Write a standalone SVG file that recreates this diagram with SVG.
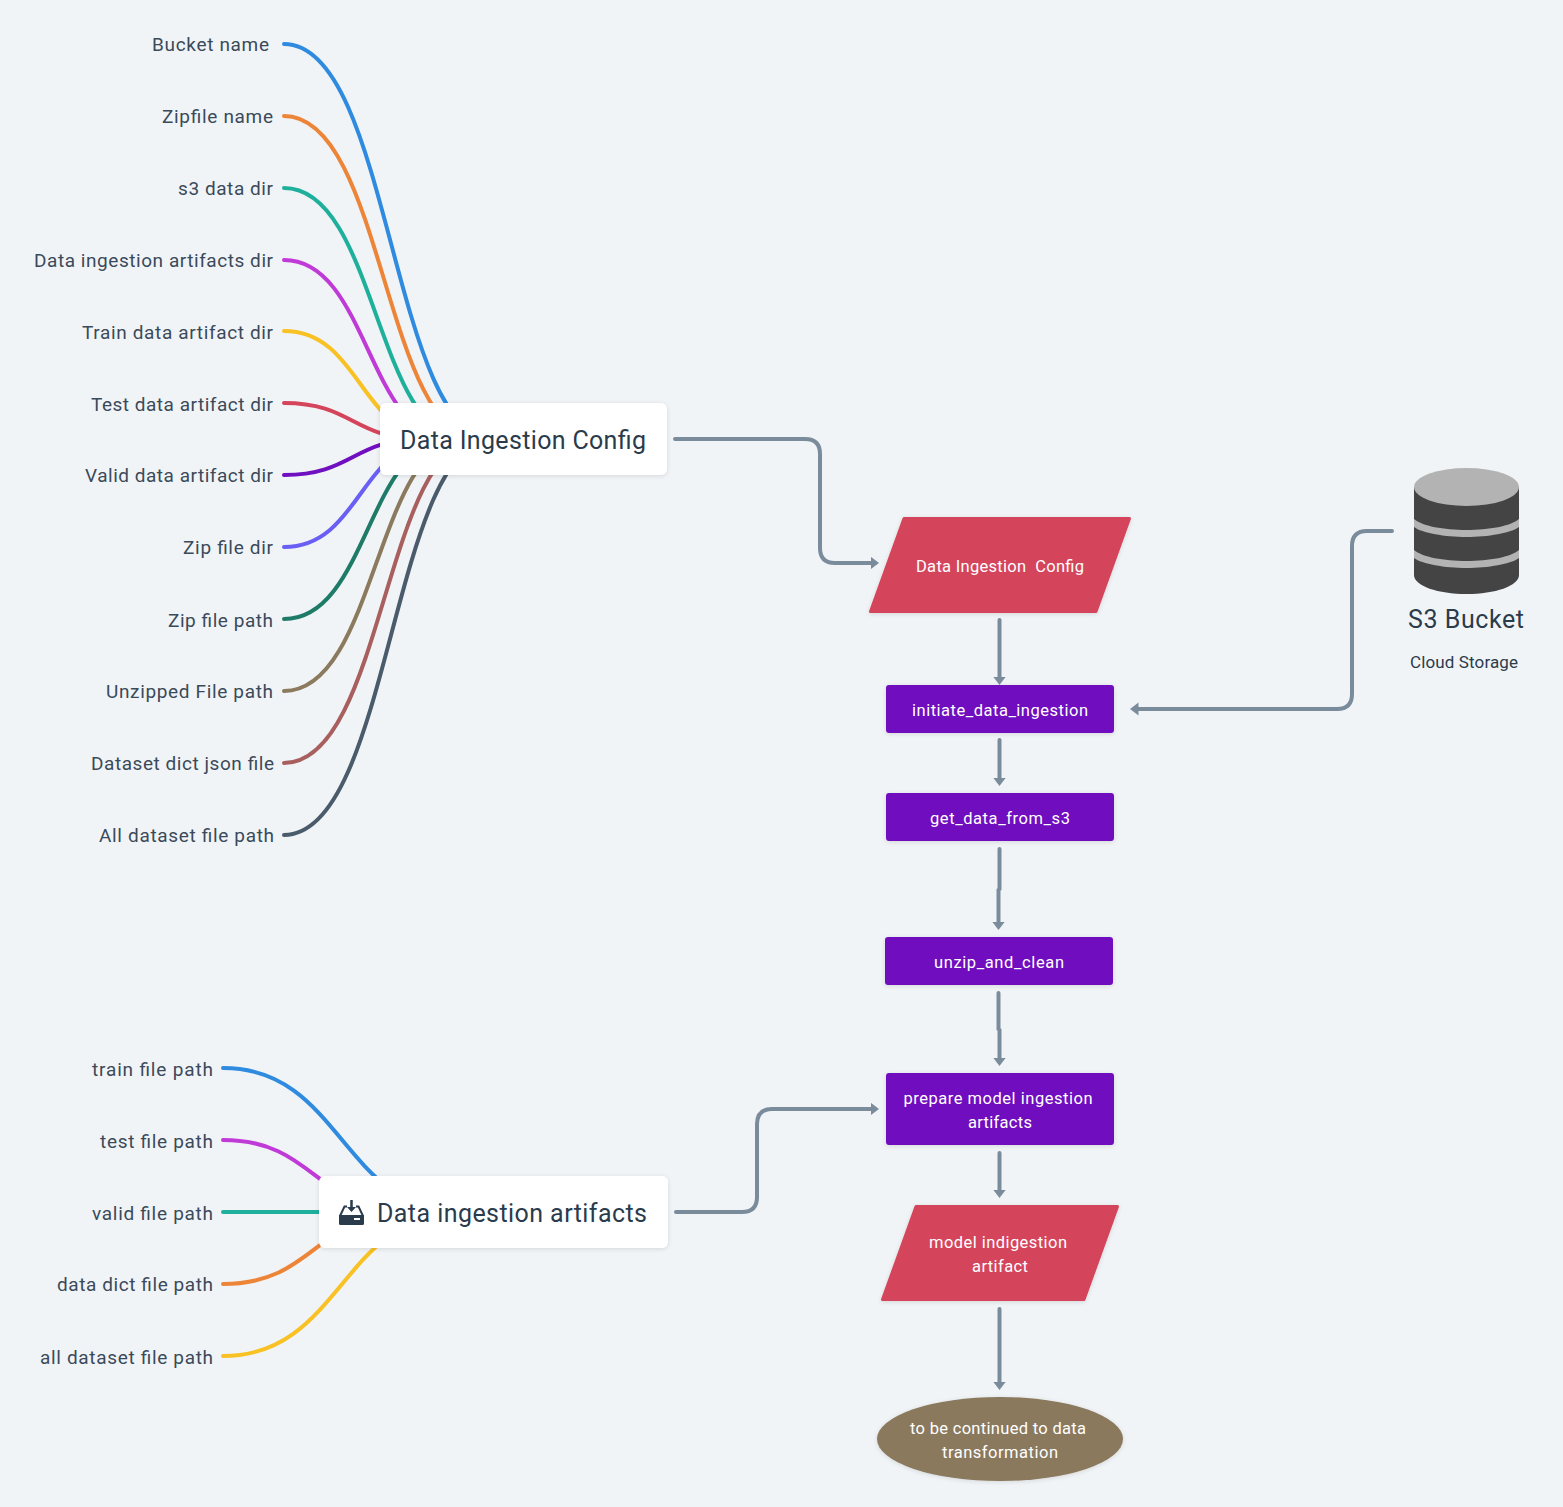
<svg xmlns="http://www.w3.org/2000/svg" width="1563" height="1507" viewBox="0 0 1563 1507">
<style>
text{font-family:"Roboto","Liberation Sans",sans-serif}
.leaf{font-size:19px;fill:#3a4a5a}
.big{font-size:25px;fill:#2a3b4c}
.w{font-size:16.5px;fill:#fff}
.c{fill:none;stroke-width:4;stroke-linecap:round}
.k{fill:none;stroke:#7a8b9c;stroke-width:4;stroke-linecap:round;marker-end:url(#a)}
.p{fill:#6f0fbf;filter:url(#s)}
.r{fill:#d4455b;stroke:#d4455b;stroke-width:3;stroke-linejoin:round;filter:url(#s)}
</style>
<defs>
<marker id="a" markerUnits="userSpaceOnUse" markerWidth="14" markerHeight="14" refX="2.500" refY="6.500" orient="auto"><path d="M0 0L8.500 6.500L0 13Z" fill="#7a8b9c"/></marker>
<filter id="s" x="-10%" y="-20%" width="120%" height="140%"><feDropShadow dx="0" dy="1" stdDeviation="2" flood-color="#000" flood-opacity=".12"/></filter>
</defs>
<rect width="1563" height="1507" fill="#f1f4f7"/>
<g id="connectors">
<path class="c" stroke="#2e8bdf" d="M284 44C391 44 391 439 494 439"/>
<path class="c" stroke="#ed8539" d="M284 116C384 116 384 439 480 439"/>
<path class="c" stroke="#1fb09c" d="M284 188C376 188 376 439 465 439"/>
<path class="c" stroke="#c03ad8" d="M284 260C368 260 368 439 451 439"/>
<path class="c" stroke="#f8c124" d="M284 331C361 331 361 439 439 439"/>
<path class="c" stroke="#d4455b" d="M284 403C353 403 353 439 422 439"/>
<path class="c" stroke="#6f0fbf" d="M284 475C353 475 353 439 422 439"/>
<path class="c" stroke="#6a5ff5" d="M284 547C361 547 361 439 439 439"/>
<path class="c" stroke="#1e7b68" d="M284 619C368 619 368 439 451 439"/>
<path class="c" stroke="#8b7a5e" d="M284 691C376 691 376 439 465 439"/>
<path class="c" stroke="#a8605f" d="M284 763C384 763 384 439 480 439"/>
<path class="c" stroke="#4a5b6b" d="M284 835C391 835 391 439 494 439"/>
<path class="c" stroke="#2e8bdf" d="M223 1068C342 1068 342 1212 462 1212"/>
<path class="c" stroke="#c03ad8" d="M223 1140C316 1140 316 1212 410 1212"/>
<path class="c" stroke="#1fb09c" d="M223 1212H330"/>
<path class="c" stroke="#ed8539" d="M223 1284C316 1284 316 1212 410 1212"/>
<path class="c" stroke="#f8c124" d="M223 1356C342 1356 342 1212 462 1212"/>
<path class="k" d="M675 439H805Q820 439 820 454V548Q820 563 835 563H873"/>
<path class="k" d="M999.500 620V679"/>
<path class="k" d="M999.500 740V780"/>
<path class="k" d="M999.500 849V889L998.500 890V924"/>
<path class="k" d="M998.500 993V1029L999.500 1030V1060"/>
<path class="k" d="M999.500 1153V1192"/>
<path class="k" d="M999.500 1309V1384"/>
<path class="k" d="M1392 531H1367Q1352 531 1352 546V694Q1352 709 1337 709H1136"/>
<path class="k" d="M676 1212H742Q757 1212 757 1197V1124Q757 1109 772 1109H873"/>
</g>
<g id="leaves1" class="leaf">
<text class="leaf" x="152" y="51" textLength="117">Bucket name</text>
<text class="leaf" x="162" y="123" textLength="111">Zipfile name</text>
<text class="leaf" x="178" y="195" textLength="95">s3 data dir</text>
<text class="leaf" x="34" y="267" textLength="239">Data ingestion artifacts dir</text>
<text class="leaf" x="82" y="339" textLength="191">Train data artifact dir</text>
<text class="leaf" x="91" y="411" textLength="182">Test data artifact dir</text>
<text class="leaf" x="85" y="482" textLength="188">Valid data artifact dir</text>
<text class="leaf" x="183" y="554" textLength="90">Zip file dir</text>
<text class="leaf" x="168" y="627" textLength="105">Zip file path</text>
<text class="leaf" x="106" y="698" textLength="167">Unzipped File path</text>
<text class="leaf" x="91" y="770" textLength="183">Dataset dict json file</text>
<text class="leaf" x="99" y="842" textLength="175">All dataset file path</text>
</g>
<g id="leaves2">
<text class="leaf" x="92" y="1076" textLength="121">train file path</text>
<text class="leaf" x="100" y="1148" textLength="113">test file path</text>
<text class="leaf" x="92" y="1220" textLength="121">valid file path</text>
<text class="leaf" x="57" y="1291" textLength="156">data dict file path</text>
<text class="leaf" x="40" y="1364" textLength="173">all dataset file path</text>
</g>
<g id="config-root">
<rect x="380" y="403" width="287" height="72" rx="6" fill="#fff" filter="url(#s)"/>
<text class="big" x="400" y="449" textLength="246">Data Ingestion Config</text>
</g>
<g id="artifacts-root">
<rect x="319" y="1176" width="349" height="72" rx="6" fill="#fff" filter="url(#s)"/>
<path fill="none" stroke="#2a3b4c" stroke-width="2" d="M347 1206.500H344.500L340 1216M356 1206.500H358.500L363 1216"/>
<path fill="#2a3b4c" d="M350.250 1200h2.500v7h3.250l-4.500 5-4.500-5h3.250zM339 1215h25v8.500a1.500 1.500 0 0 1-1.500 1.500h-22a1.500 1.500 0 0 1-1.500-1.500z"/>
<rect x="354" y="1218" width="6" height="2" fill="#fff"/>
<text class="big" x="377" y="1222" textLength="270">Data ingestion artifacts</text>
</g>
<g id="ingestion-config"><path class="r" d="M904 518.500H1129.500L1096 611.500H870.500Z"/><text class="w" x="916" y="572" textLength="168" xml:space="preserve">Data Ingestion  Config</text></g>
<g id="initiate"><rect class="p" x="886" y="685" width="228" height="48" rx="3"/><text class="w" x="912" y="716" textLength="176">initiate_data_ingestion</text></g>
<g id="get-data"><rect class="p" x="886" y="793" width="228" height="48" rx="3"/><text class="w" x="930" y="824" textLength="140">get_data_from_s3</text></g>
<g id="unzip"><rect class="p" x="885" y="937" width="228" height="48" rx="3"/><text class="w" x="934" y="968" textLength="130">unzip_and_clean</text></g>
<g id="prepare"><rect class="p" x="886" y="1073" width="228" height="72" rx="3"/><text class="w" x="903.500" y="1104" textLength="189">prepare model ingestion</text><text class="w" x="968" y="1128" textLength="64">artifacts</text></g>
<g id="artifact"><path class="r" d="M916 1206.500H1117.500L1084 1299.500H882.500Z"/><text class="w" x="929" y="1248" textLength="138">model indigestion</text><text class="w" x="972" y="1272" textLength="56">artifact</text></g>
<g id="continued"><ellipse cx="1000" cy="1439" rx="123" ry="42" fill="#8a795d" filter="url(#s)"/><text class="w" x="910" y="1434" textLength="176">to be continued to data</text><text class="w" x="942" y="1458" textLength="116">transformation</text></g>
<g id="s3">
<path fill="#444" d="M1414 487V575C1414 586 1438 594 1466.500 594S1519 586 1519 575V487Z"/>
<ellipse cx="1466.500" cy="487" rx="52.500" ry="19" fill="#b3b3b3"/>
<path fill="#b3b3b3" d="M1414 519C1422 526 1444 530 1466.500 530S1511 526 1519 519V527C1511 533 1488 537 1466.500 537S1422 533 1414 527ZM1414 550C1422 557 1444 561 1466.500 561S1511 557 1519 550V558C1511 564 1488 568 1466.500 568S1422 564 1414 558Z"/>
<text x="1408" y="628" textLength="116" style="font-size:25px;fill:#2a3b4c">S3 Bucket</text>
<text x="1410" y="668" textLength="108" style="font-size:17px;fill:#2a3b4c">Cloud Storage</text>
</g>
</svg>
